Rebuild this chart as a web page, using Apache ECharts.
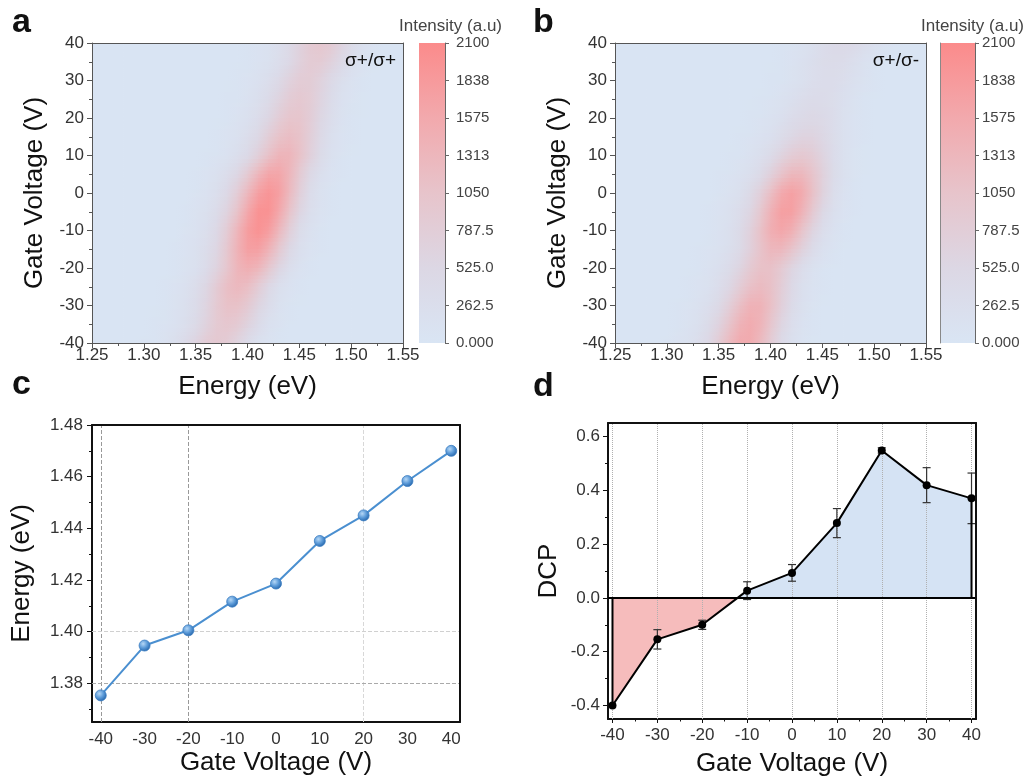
<!DOCTYPE html>
<html><head><meta charset="utf-8">
<script src="https://cdn.jsdelivr.net/npm/echarts@6/dist/echarts.min.js"></script>
<style>html,body{margin:0;padding:0;background:#fff}#main{width:1029px;height:782px}</style>
</head><body><div id="main"></div>
<script>
// ---------- data ----------
const energies = [1.25,1.26,1.27,1.28,1.29,1.30,1.31,1.32,1.33,1.34,1.35,1.36,1.37,1.38,1.39,1.40,1.41,1.42,1.43,1.44,1.45,1.46,1.47,1.48,1.49,1.50,1.51,1.52,1.53,1.54,1.55];
const mapVoltages = [40,35,30,25,20,15,10,5,0,-5,-10,-15,-20,-25,-30,-35,-40];
// rows follow mapVoltages (top to bottom), columns follow energies
const intensitySameHelicity = [
[30,30,30,30,30, 30,30,30,30,30, 30,30,30,30,30, 60,90,140,260,430,670,890,980,890,650,390,190,100,50, 30,30],
[30,30,30,30,30, 30,30,30,30,30, 30,30,30,30, 50,70,110,170,290,480,700,860,860,700,470,270,130,70,40, 30,30],
[30,30,30,30,30, 30,30,30,30,30, 30,30,30, 50,70,100,170,280,460,680,830,830,680,460,260,130,70,40, 30,30,30],
[30,30,30,30,30, 30,30,30,30,30, 30,30,30, 60,80,140,250,410,630,840,930,840,620,370,180,90,50, 30,30,30,30],
[30,30,30,30,30, 30,30,30,30,30, 30,30, 50,80,120,200,340,560,820,1010,1010,820,550,310,150,80,50, 30,30,30,30],
[30,30,30,30,30, 30,30,30,30,30, 30,30, 60,100,170,310,510,800,1070,1180,1070,780,470,230,110,60, 30,30,30,30,30],
[30,30,30,30,30, 30,30,30,30,30, 30, 60,90,150,260,450,750,1100,1350,1350,1100,730,410,190,90,50, 30,30,30,30,30],
[30,30,30,30,30, 30,30,30,30,30, 60,100,180,310,540,900,1330,1640,1640,1330,890,490,230,100,60, 30,30,30,30,30,30],
[30,30,30,30,30, 30,30,30,30,30, 90,140,260,490,830,1300,1740,1930,1740,1270,750,350,160,80, 30,30,30,30,30,30,30],
[30,30,30,30,30, 30,30,30,30, 70,120,210,370,650,1090,1610,1980,1980,1610,1070,590,270,120,60, 30,30,30,30,30,30,30],
[30,30,30,30,30, 30,30,30,30, 90,150,260,500,850,1340,1790,1980,1790,1300,770,360,170,80, 30,30,30,30,30,30,30,30],
[30,30,30,30,30, 30,30,30, 70,110,190,330,570,960,1410,1740,1740,1410,940,520,240,110,60, 30,30,30,30,30,30,30,30],
[30,30,30,30,30, 30,30,30, 70,120,200,380,640,1000,1340,1480,1340,970,580,280,130,70, 30,30,30,30,30,30,30,30,30],
[30,30,30,30,30, 30,30, 70,100,180,330,560,870,1160,1280,1160,840,510,240,120,60, 30,30,30,30,30,30,30,30,30,30],
[30,30,30,30,30, 30, 50,80,130,220,370,610,900,1100,1100,900,600,340,160,80,50, 30,30,30,30,30,30,30,30,30,30],
[30,30,30,30,30, 30, 60,90,140,260,430,670,890,980,890,650,390,190,100,50, 30,30,30,30,30,30,30,30,30,30,30],
[30,30,30,30,30, 60,80,140,250,410,630,840,930,840,620,370,180,90,50, 30,30,30,30,30,30,30,30,30,30,30,30]
];
const intensityOppositeHelicity = [
[30,30,30,30,30, 30,30,30,30,30, 30,30,30,30,30, 40,60,80,130,210,310,410,450,410,300,190,100,60,40, 30,30],
[30,30,30,30,30, 30,30,30,30,30, 30,30,30,30, 40,50,70,110,180,260,350,380,350,260,160,90,50,40, 30,30,30],
[30,30,30,30,30, 30,30,30,30,30, 30,30,30, 40,40,60,80,130,190,280,330,330,280,190,120,70,40,30, 30,30,30],
[30,30,30,30,30, 30,30,30,30,30, 30,30, 40,50,60,90,140,220,310,370,370,310,210,130,70,50,30, 30,30,30,30],
[30,30,30,30,30, 30,30,30,30,30, 30,30, 40,60,90,140,220,340,440,490,440,330,200,110,60,40, 30,30,30,30,30],
[30,30,30,30,30, 30,30,30,30,30, 30, 40,60,90,140,220,360,520,630,630,520,350,200,100,60,40, 30,30,30,30,30],
[30,30,30,30,30, 30,30,30,30,30, 30, 60,80,140,250,410,630,840,930,840,620,370,180,90,50, 30,30,30,30,30,30],
[30,30,30,30,30, 30,30,30,30,30, 60,90,150,250,430,720,1060,1300,1300,1060,710,390,190,90,50, 30,30,30,30,30,30],
[30,30,30,30,30, 30,30,30,30,30, 80,130,230,440,740,1170,1560,1730,1560,1140,680,320,150,70, 30,30,30,30,30,30,30],
[30,30,30,30,30, 30,30,30,30, 70,110,190,330,570,960,1410,1740,1740,1410,940,520,240,110,60, 30,30,30,30,30,30,30],
[30,30,30,30,30, 30,30,30,30, 80,130,220,410,700,1100,1470,1630,1470,1070,640,300,140,70, 30,30,30,30,30,30,30,30],
[30,30,30,30,30, 30,30,30, 60,90,150,250,430,720,1060,1300,1300,1060,710,390,190,90,50, 30,30,30,30,30,30,30,30],
[30,30,30,30,30, 30,30, 50,80,130,220,370,610,900,1100,1100,900,600,340,160,80,50, 30,30,30,30,30,30,30,30,30],
[30,30,30,30,30, 30,30, 70,100,170,320,530,830,1110,1230,1110,810,490,230,110,60, 30,30,30,30,30,30,30,30,30,30],
[30,30,30,30,30, 30, 60,90,160,270,460,770,1140,1400,1400,1140,760,420,200,90,50, 30,30,30,30,30,30,30,30,30,30],
[30,30,30,30,30, 30, 80,120,210,390,660,1040,1380,1530,1380,1000,600,290,140,70, 30,30,30,30,30,30,30,30,30,30,30],
[30,30,30,30,30, 60,100,170,290,510,850,1250,1540,1540,1250,840,460,220,100,50, 30,30,30,30,30,30,30,30,30,30,30]
];
const colorbarTicks = [0,262.5,525,787.5,1050,1312.5,1575,1837.5,2100];
const colorbarTickLabels = ['0.000','262.5','525.0','787.5','1050','1313','1575','1838','2100'];

const gateVoltages = [-40,-30,-20,-10,0,10,20,30,40];
const peakEnergy = [1.3753,1.3946,1.4005,1.4116,1.4186,1.4351,1.4450,1.4583,1.4700];
const energyTicks = [1.38,1.40,1.42,1.44,1.46,1.48];
const energyMinorTicks = [1.37,1.39,1.41,1.43,1.45,1.47];
const guideVoltagesC = [-40,-20,20];
const guideEnergiesC = [1.38,1.40];

const dcp = [-0.400,-0.154,-0.100,0.027,0.093,0.278,0.548,0.419,0.370];
const dcpErr = [0,0.036,0.017,0.033,0.031,0.054,0.010,0.065,0.094];
const dcpTicks = [-0.4,-0.2,0.0,0.2,0.4,0.6];
const dcpMinorTicks = [-0.3,-0.1,0.1,0.3,0.5];
const voltageMinorTicks = [-35,-25,-15,-5,5,15,25,35];

[intensitySameHelicity, intensityOppositeHelicity].forEach((m,mi)=>m.forEach((r,ri)=>{
  if (r.length!==energies.length) throw new Error('matrix '+mi+' row '+ri+' has '+r.length);
}));

// ---------- styling ----------
const FONT = '"Liberation Sans", Arial, Helvetica, sans-serif';
const heatColorStops = [[0,'#d9e5f4'],[525,'#dcd7e4'],[1050,'#e7c4cb'],[1575,'#f2a9ad'],[2100,'#fb8b8b']];
const heatMax = 2100;

function hexToRgb(h){return [parseInt(h.slice(1,3),16),parseInt(h.slice(3,5),16),parseInt(h.slice(5,7),16)];}
const heatStopsRgb = heatColorStops.map(s=>[s[0],hexToRgb(s[1])]);
function heatColor(v){
  v = Math.max(0, Math.min(heatMax, v));
  for (let i=1;i<heatStopsRgb.length;i++){
    if (v <= heatStopsRgb[i][0]) {
      const a=heatStopsRgb[i-1], b=heatStopsRgb[i];
      const t=(v-a[0])/(b[0]-a[0]);
      const c=a[1].map((x,n)=>Math.round(x+(b[1][n]-x)*t));
      return 'rgb('+c.join(',')+')';
    }
  }
  return heatColorStops[heatColorStops.length-1][1];
}

function heatData(matrix){
  const out=[];
  for (let j=0;j<mapVoltages.length-1;j++)
    for (let k=0;k<energies.length-1;k++)
      out.push([energies[k], mapVoltages[j], matrix[j][k], k, j]);
  return out;
}
function heatRender(matrix){
  return function(params, api){
    const k=api.value(3), j=api.value(4);
    const e0=energies[k], e1=energies[k+1], v0=mapVoltages[j], v1=mapVoltages[j+1];
    const N=5, children=[];
    for (let s=0;s<N;s++){
      const t=(s+0.5)/N;
      const ya=v0+(v1-v0)*s/N, yb=v0+(v1-v0)*(s+1)/N;
      const p0=api.coord([e0,ya]), p1=api.coord([e1,yb]);
      const left=matrix[j][k]+(matrix[j+1][k]-matrix[j][k])*t;
      const right=matrix[j][k+1]+(matrix[j+1][k+1]-matrix[j][k+1])*t;
      children.push({type:'rect', silent:true,
        shape:{x:p0[0], y:p0[1], width:p1[0]-p0[0]+0.8, height:p1[1]-p0[1]+0.8},
        style:{fill:new echarts.graphic.LinearGradient(0,0,1,0,[{offset:0,color:heatColor(left)},{offset:1,color:heatColor(right)}])}});
    }
    return {type:'group', children};
  };
}
function colorbarRender(params, api){
  const p0=api.coord([0,heatMax]), p1=api.coord([1,0]);
  return {type:'rect', silent:true, shape:{x:p0[0], y:p0[1], width:p1[0]-p0[0], height:p1[1]-p0[1]},
    style:{fill:new echarts.graphic.LinearGradient(0,1,0,0, heatColorStops.map(s=>({offset:s[0]/heatMax, color:s[1]})))}};
}

const tickLabel = {fontSize:17, color:'#333', fontFamily:FONT};
const nameStyle = {fontSize:26, color:'#111', fontFamily:FONT};

function frameAxis(gridIndex, position, color, width){
  return {type:'value', gridIndex, position, min:0, max:1, z:10,
    axisLine:{show:true, onZero:false, lineStyle:{color, width}},
    axisTick:{show:false}, axisLabel:{show:false}, splitLine:{show:false}};
}
function hiddenAxis(gridIndex){
  return {type:'value', gridIndex, min:0, max:1, show:false};
}
function energyAxis(gridIndex){
  return {type:'value', gridIndex, position:'bottom', min:1.25, max:1.55, interval:0.05, z:10,
    name:'Energy (eV)', nameLocation:'middle', nameGap:31, nameTextStyle:nameStyle,
    axisLine:{onZero:false, lineStyle:{color:'#555', width:1}},
    axisTick:{show:true, length:5, lineStyle:{color:'#555'}},
    minorTick:{show:true, splitNumber:2, length:3, lineStyle:{color:'#555'}},
    axisLabel:Object.assign({margin:4, formatter:v=>v.toFixed(2)}, tickLabel),
    splitLine:{show:false}};
}
function voltageMapAxis(gridIndex){
  return {type:'value', gridIndex, position:'left', min:-40, max:40, interval:10, z:10,
    name:'Gate Voltage (V)', nameLocation:'middle', nameGap:44, nameTextStyle:nameStyle,
    axisLine:{onZero:false, lineStyle:{color:'#555', width:1}},
    axisTick:{show:true, length:5, lineStyle:{color:'#555'}},
    minorTick:{show:true, splitNumber:2, length:3, lineStyle:{color:'#555'}},
    axisLabel:Object.assign({margin:8}, tickLabel),
    splitLine:{show:false}};
}
function colorbarAxis(gridIndex, margin){
  return {type:'value', gridIndex, position:'right', min:0, max:heatMax, interval:262.5, z:10,
    axisLine:{show:true, onZero:false, lineStyle:{color:'#666', width:1}},
    axisTick:{show:true, length:4, lineStyle:{color:'#666'}},
    axisLabel:{fontSize:15, color:'#444', fontFamily:FONT, margin,
      formatter:v=>{const i=colorbarTicks.findIndex(t=>Math.abs(t-v)<1e-6); return i>=0?colorbarTickLabels[i]:'';}},
    splitLine:{show:false}};
}

const option = {
  animation:false,
  backgroundColor:'#fff',
  textStyle:{fontFamily:FONT},
  grid:[
    {left:92, top:43, width:311, height:300},
    {left:419, top:43, width:26, height:300},
    {left:615, top:43, width:311, height:300},
    {left:940, top:43, width:35, height:300},
    {left:92, top:425, width:368, height:297},
    {left:608, top:423, width:368, height:296}
  ],
  xAxis:[
    energyAxis(0),
    frameAxis(0,'top','#555',1),
    hiddenAxis(1),
    energyAxis(2),
    frameAxis(2,'top','#555',1),
    hiddenAxis(3),
    {type:'value', gridIndex:4, position:'bottom', min:-42, max:42,
      name:'Gate Voltage (V)', nameLocation:'middle', nameGap:28, nameTextStyle:nameStyle,
      axisLine:{onZero:false, lineStyle:{color:'#111', width:2}},
      axisTick:{show:false, customValues:gateVoltages},
      axisLabel:Object.assign({margin:9, customValues:gateVoltages, formatter:v=>String(v)}, tickLabel),
      splitLine:{show:false}},
    frameAxis(4,'top','#111',2),
    {type:'value', gridIndex:5, position:'bottom', min:-41, max:41,
      name:'Gate Voltage (V)', nameLocation:'middle', nameGap:32, nameTextStyle:nameStyle,
      axisLine:{onZero:false, lineStyle:{color:'#111', width:2}},
      axisTick:{show:true, length:4, customValues:gateVoltages, lineStyle:{color:'#111'}},
      axisLabel:Object.assign({margin:8, customValues:gateVoltages, formatter:v=>String(v)}, tickLabel),
      splitLine:{show:false}},
    frameAxis(5,'top','#111',2),
    {type:'value', gridIndex:5, position:'bottom', min:-41, max:41,
      axisLine:{show:false, onZero:false}, axisLabel:{show:false}, splitLine:{show:false},
      axisTick:{show:true, length:2.5, customValues:voltageMinorTicks, lineStyle:{color:'#111'}}}
  ],
  yAxis:[
    voltageMapAxis(0),
    frameAxis(0,'right','#555',1),
    colorbarAxis(1, 11),
    voltageMapAxis(2),
    frameAxis(2,'right','#555',1),
    colorbarAxis(3, 7),
    {type:'value', gridIndex:4, position:'left', min:1.365, max:1.48,
      name:'Energy (eV)', nameLocation:'middle', nameGap:57, nameTextStyle:nameStyle,
      axisLine:{onZero:false, lineStyle:{color:'#111', width:2}},
      axisTick:{show:true, length:5, customValues:energyTicks, lineStyle:{color:'#111'}},
      axisLabel:Object.assign({margin:9, customValues:energyTicks, formatter:v=>v.toFixed(2)}, tickLabel),
      splitLine:{show:false}},
    frameAxis(4,'right','#111',2),
    {type:'value', gridIndex:4, position:'left', min:1.365, max:1.48,
      axisLine:{show:false, onZero:false}, axisLabel:{show:false}, splitLine:{show:false},
      axisTick:{show:true, length:3, customValues:energyMinorTicks, lineStyle:{color:'#111'}}},
    {type:'value', gridIndex:5, position:'left', min:-0.45, max:0.65,
      name:'DCP', nameLocation:'middle', nameGap:46, nameTextStyle:nameStyle,
      axisLine:{onZero:false, lineStyle:{color:'#111', width:2}},
      axisTick:{show:true, length:5, customValues:dcpTicks, lineStyle:{color:'#111'}},
      axisLabel:Object.assign({margin:8, customValues:dcpTicks, formatter:v=>v.toFixed(1)}, tickLabel),
      splitLine:{show:false}},
    frameAxis(5,'right','#111',2),
    {type:'value', gridIndex:5, position:'left', min:-0.45, max:0.65,
      axisLine:{show:false, onZero:false}, axisLabel:{show:false}, splitLine:{show:false},
      axisTick:{show:true, length:3, customValues:dcpMinorTicks, lineStyle:{color:'#111'}}},
    frameAxis(3,'left','#888',1)
  ],
  visualMap:[{type:'piecewise', show:false, seriesIndex:5, dimension:1,
    pieces:[{gte:-10, lt:0, color:'#f6bcbc'},{gte:0, lte:10, color:'#d5e3f4'}]}],
  series:[
    {type:'custom', xAxisIndex:0, yAxisIndex:0, clip:true, silent:true, z:1,
      encode:{x:0, y:1}, data:heatData(intensitySameHelicity), renderItem:heatRender(intensitySameHelicity)},
    {type:'custom', xAxisIndex:2, yAxisIndex:2, silent:true, encode:{x:0,y:1},
      data:[[0,0]], renderItem:colorbarRender},
    {type:'custom', xAxisIndex:3, yAxisIndex:3, clip:true, silent:true, z:1,
      encode:{x:0, y:1}, data:heatData(intensityOppositeHelicity), renderItem:heatRender(intensityOppositeHelicity)},
    {type:'custom', xAxisIndex:5, yAxisIndex:5, silent:true, encode:{x:0,y:1},
      data:[[0,0]], renderItem:colorbarRender},
    {type:'line', xAxisIndex:6, yAxisIndex:6, z:5,
      data:gateVoltages.map((v,i)=>[v, peakEnergy[i]]),
      lineStyle:{color:'#4a8fd0', width:2},
      symbol:'circle', symbolSize:11,
      itemStyle:{color:new echarts.graphic.RadialGradient(0.38,0.35,0.65,[{offset:0,color:'#b5d7f6'},{offset:0.55,color:'#5b9ad8'},{offset:1,color:'#2a69ad'}]), borderColor:'#3a7cc2', borderWidth:0.8},
      markLine:{silent:true, symbol:'none', label:{show:false}, z:1,
        data:guideVoltagesC.map((v,i)=>({xAxis:v, lineStyle:{color:i<2?'#999':'#d8d8d8', type:'dashed', width:1}}))
          .concat(guideEnergiesC.map((v,i)=>({yAxis:v, lineStyle:{color:i===0?'#aaa':'#d0d0d0', type:'dashed', width:1}})))}},
    {type:'line', xAxisIndex:8, yAxisIndex:9, z:1,
      data:gateVoltages.map((v,i)=>[v, dcp[i]]),
      symbol:'none', lineStyle:{width:0, opacity:0},
      areaStyle:{opacity:1},
      markLine:{silent:true, symbol:'none', label:{show:false}, z:2,
        data:gateVoltages.map(v=>({xAxis:v, lineStyle:{color:'#b0b0b0', type:'dotted', width:1}}))}},
    {type:'line', xAxisIndex:8, yAxisIndex:9, z:6,
      data:gateVoltages.map((v,i)=>[v, dcp[i]]),
      lineStyle:{color:'#000', width:2}, symbol:'circle', symbolSize:8,
      itemStyle:{color:'#000'},
      markLine:{silent:true, symbol:'none', label:{show:false}, z:5,
        data:[{yAxis:0, lineStyle:{color:'#000', type:'solid', width:2}}]}},
    {type:'custom', xAxisIndex:8, yAxisIndex:9, z:4, silent:true, encode:{x:0,y:1},
      data:gateVoltages.map((v,i)=>[v, dcp[i], dcpErr[i]]),
      renderItem:function(params, api){
        const x=api.value(0), v=api.value(1), e=api.value(2);
        const children=[];
        if (e>0){
          const t=api.coord([x,v+e]), b=api.coord([x,v-e]);
          children.push({type:'line', shape:{x1:t[0],y1:t[1],x2:b[0],y2:b[1]}, style:{stroke:'#333', lineWidth:1.2}});
          children.push({type:'line', shape:{x1:t[0]-4,y1:t[1],x2:t[0]+4,y2:t[1]}, style:{stroke:'#333', lineWidth:1.2}});
          children.push({type:'line', shape:{x1:b[0]-4,y1:b[1],x2:b[0]+4,y2:b[1]}, style:{stroke:'#333', lineWidth:1.2}});
        }
        if (params.dataIndex===0 || params.dataIndex===gateVoltages.length-1){
          const p=api.coord([x,v]), base=api.coord([x,0]);
          children.push({type:'line', shape:{x1:p[0],y1:p[1],x2:base[0],y2:base[1]}, style:{stroke:'#000', lineWidth:2}});
        }
        return {type:'group', children};
      }}
  ],
  graphic:[
    {type:'text', x:12, y:6, z:100, style:{text:'a', fontSize:34, fontWeight:'bold', fontFamily:FONT, fill:'#111'}},
    {type:'text', x:533, y:6, z:100, style:{text:'b', fontSize:34, fontWeight:'bold', fontFamily:FONT, fill:'#111'}},
    {type:'text', x:12, y:368, z:100, style:{text:'c', fontSize:34, fontWeight:'bold', fontFamily:FONT, fill:'#111'}},
    {type:'text', x:533, y:370, z:100, style:{text:'d', fontSize:34, fontWeight:'bold', fontFamily:FONT, fill:'#111'}},
    {type:'text', x:396, y:51, z:100, style:{text:'σ+/σ+', fontSize:19, fontFamily:FONT, fill:'#111', align:'right'}},
    {type:'text', x:919, y:51, z:100, style:{text:'σ+/σ-', fontSize:19, fontFamily:FONT, fill:'#111', align:'right'}},
    {type:'text', x:502, y:18, z:100, style:{text:'Intensity (a.u)', fontSize:17, fontFamily:FONT, fill:'#444', align:'right'}},
    {type:'text', x:1024, y:18, z:100, style:{text:'Intensity (a.u)', fontSize:17, fontFamily:FONT, fill:'#444', align:'right'}}
  ]
};
const chart = echarts.init(document.getElementById('main'), null, {renderer:'canvas'});
chart.setOption(option);
</script></body></html>
